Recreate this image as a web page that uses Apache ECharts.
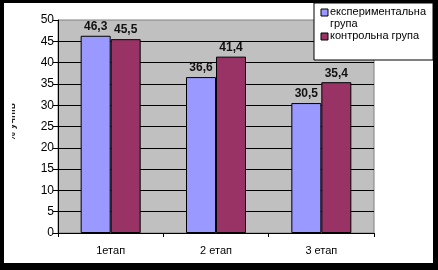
<!DOCTYPE html>
<html><head><meta charset="utf-8">
<script src="https://cdn.jsdelivr.net/npm/echarts@6/dist/echarts.min.js"></script>
<style>html,body{margin:0;padding:0;background:#fff}#c{width:438px;height:270px}</style>
</head><body><div id="c"></div>
<script>
var categories = ['1етап', '2 етап', '3 етап'];
var seriesNames = ['експериментальна група', 'контрольна група'];
var experimental = [46.3, 36.6, 30.5];
var control = [45.5, 41.4, 35.4];
var yTitle = '% учнів';
var colors = ['#9999ff', '#993366'];
var font = 'Liberation Sans, Arial, sans-serif';

var chart = echarts.init(document.getElementById('c'), null, {renderer: 'canvas'});
function lbl(p){ return String(p.value).replace('.', ','); }
function mkSeries(name, data, color){
  return {
    name: name, type: 'bar', data: data, barWidth: 30, barGap: '0%',
    itemStyle: {color: color, borderColor: '#000', borderWidth: 1},
    label: {show: true, position: 'top', distance: 3, formatter: lbl,
      color: '#111', fontFamily: font, fontSize: 12, fontWeight: 'bold'}
  };
}
chart.setOption({
  animation: false,
  backgroundColor: '#fff',
  grid: {left: 58, right: 64, top: 20, bottom: 37, show: true,
    backgroundColor: '#c0c0c0', borderColor: '#808080', borderWidth: 1},
  xAxis: {type: 'category', data: categories,
    axisLine: {lineStyle: {color: '#000', width: 1}},
    axisTick: {show: true, length: 4, lineStyle: {color: '#000'}},
    axisLabel: {color: '#000', fontFamily: font, fontSize: 11, margin: 12}},
  yAxis: {type: 'value', min: 0, max: 50, interval: 5,
    axisLine: {show: true, lineStyle: {color: '#000', width: 1}},
    axisTick: {show: true, length: 5, lineStyle: {color: '#000'}},
    axisLabel: {color: '#000', fontFamily: font, fontSize: 12, margin: 4},
    splitLine: {show: true, showMaxLine: false, lineStyle: {color: '#000', width: 1}}},
  series: [mkSeries(seriesNames[0], experimental, colors[0]), mkSeries(seriesNames[1], control, colors[1])],
  graphic: [
    {type: 'text', left: 7, top: 103, rotation: Math.PI/2, z: 5,
      style: {text: yTitle, fill: '#222', font: 'bold 10px ' + font}},
    {type: 'rect', shape: {x: 4, y: 95, width: 8, height: 75}, style: {fill: '#fff'}, z: 6, silent: true},
    {type: 'rect', shape: {x: 314, y: 3, width: 119, height: 57}, style: {fill: '#fff', stroke: '#000', lineWidth: 1}, z: 10},
    {type: 'rect', shape: {x: 321, y: 9, width: 7, height: 7}, style: {fill: colors[0], stroke: '#000', lineWidth: 1}, z: 11},
    {type: 'text', x: 330, y: 6, z: 11, style: {text: seriesNames[0].replace(' ', '\n'), fill: '#000', font: '11px ' + font, lineHeight: 12}},
    {type: 'rect', shape: {x: 321, y: 33, width: 7, height: 7}, style: {fill: colors[1], stroke: '#000', lineWidth: 1}, z: 11},
    {type: 'text', x: 330, y: 30, z: 11, style: {text: seriesNames[1], fill: '#000', font: '11px ' + font}},
    {type: 'rect', shape: {x: 0, y: 0, width: 438, height: 3}, style: {fill: '#000'}, z: 20, silent: true},
    {type: 'rect', shape: {x: 0, y: 263, width: 438, height: 7}, style: {fill: '#000'}, z: 20, silent: true},
    {type: 'rect', shape: {x: 0, y: 0, width: 4, height: 270}, style: {fill: '#000'}, z: 20, silent: true},
    {type: 'rect', shape: {x: 433, y: 0, width: 5, height: 270}, style: {fill: '#000'}, z: 20, silent: true}
  ]
});
</script></body></html>
